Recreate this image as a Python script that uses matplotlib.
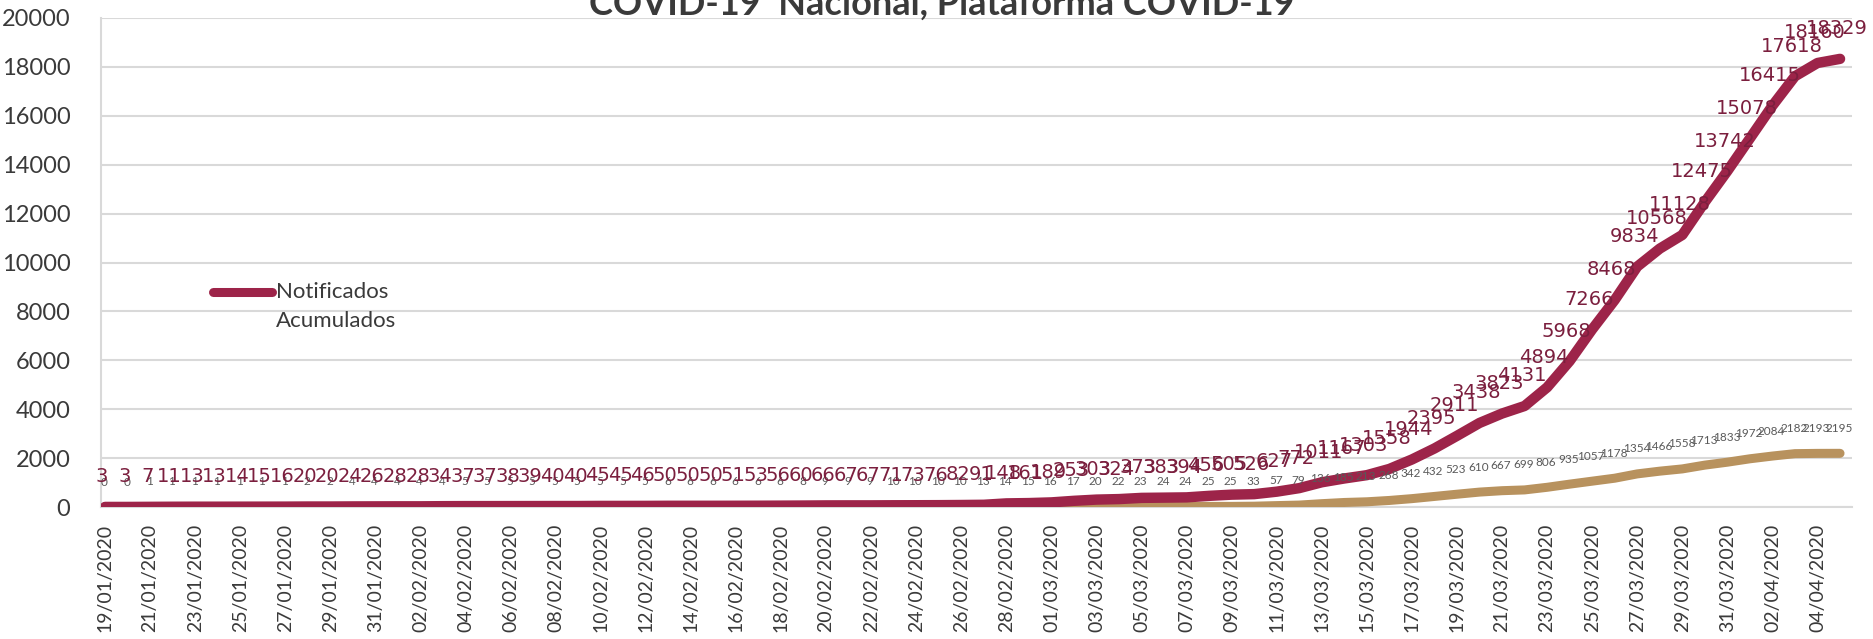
import matplotlib
matplotlib.use("Agg")
import matplotlib.pyplot as plt
import pandas as pd
from matplotlib.lines import Line2D

# ---- data ----
start_date = "2020-01-19"
n_days = 78
notificados = [3, 3, 7, 11, 13, 13, 14, 15, 16, 20, 20, 24, 26, 28, 28, 34, 37, 37, 38, 39,
               40, 40, 45, 45, 46, 50, 50, 50, 51, 53, 56, 60, 66, 67, 67, 71, 73, 76, 82, 91,
               148, 161, 189, 253, 303, 324, 373, 383, 394, 456, 505, 526, 627, 772, 1011,
               1167, 1303, 1558, 1944, 2395, 2911, 3438, 3823, 4131, 4894, 5968, 7266, 8468,
               9834, 10568, 11128, 12475, 13742, 15078, 16415, 17618, 18160, 18329]
confirmados = [0, 0, 1, 1, 1, 1, 1, 1, 1, 2, 2, 4, 4, 4, 4, 4, 5, 5, 5, 5, 5, 5, 5, 5, 5,
               6, 6, 6, 6, 6, 6, 8, 9, 9, 9, 10, 10, 10, 10, 13, 14, 15, 16, 17, 20, 22, 23,
               24, 24, 25, 25, 33, 57, 79, 136, 185, 213, 268, 342, 432, 523, 610, 667, 699,
               806, 935, 1057, 1178, 1354, 1466, 1558, 1713, 1833, 1972, 2084, 2182, 2193, 2195]
yticks = list(range(0, 20001, 2000))
title = "COVID-19  Nacional, Plataforma COVID-19"
legend_lines = ["Notificados", "Acumulados"]

dates = pd.date_range(start_date, periods=n_days)
x = list(range(n_days))
tick_pos = x[::2]
tick_labels = [d.strftime("%d/%m/%Y") for d in dates[::2]]

MAROON = "#9D2449"
GOLD = "#B8925E"
LBL_MAROON = "#7B1F3E"
LBL_GRAY = "#595959"
GRID = "#D9D9D9"
TXT = "#3A3A3A"

plt.rcParams['font.family'] = ['Lato', 'DejaVu Sans']

W, H = 1874, 639
fig = plt.figure(figsize=(W / 100, H / 100), dpi=100)
ax = fig.add_axes([101 / W, 1 - 507 / H, (1852 - 101) / W, (507 - 18) / H])

ax.plot(x, confirmados, color=GOLD, lw=6.5, solid_capstyle='round', solid_joinstyle='round', zorder=3)
ax.plot(x, notificados, color=MAROON, lw=7.5, solid_capstyle='round', solid_joinstyle='round', zorder=4)

for xi, v in zip(x, confirmados):
    ax.annotate(str(v), (xi, v), xytext=(-1, 25), textcoords='offset pixels',
                ha='center', va='center', fontsize=8.5, color=LBL_GRAY, zorder=5)
for xi, v in zip(x, notificados):
    ax.annotate(str(v), (xi, v), xytext=(-3, 30), textcoords='offset pixels',
                ha='center', va='center', fontsize=14, color=LBL_MAROON,
                family='DejaVu Sans', zorder=6)

ax.set_xlim(-0.18, 77.53)
ax.set_ylim(0, 20000)
ax.set_yticks(yticks)
ax.set_yticklabels([str(t) for t in yticks])
ax.set_xticks(tick_pos)
ax.set_xticklabels(tick_labels, rotation=90)
ax.tick_params(axis='y', length=0, pad=22, labelsize=17, labelcolor=TXT)
ax.tick_params(axis='x', length=0, pad=12, labelsize=14, labelcolor=TXT)
ax.grid(axis='y', color=GRID, lw=1.5)
ax.set_axisbelow(True)
for s in ['top', 'right']:
    ax.spines[s].set_visible(False)
ax.spines['left'].set_color(GRID)
ax.spines['left'].set_linewidth(1.5)
ax.spines['bottom'].set_color(GRID)
ax.spines['bottom'].set_linewidth(1.5)

# legend (manual)
fig.add_artist(Line2D([213 / W, 272 / W], [1 - 292 / H, 1 - 292 / H], color=MAROON, lw=6.5,
                      solid_capstyle='round', transform=fig.transFigure))
fig.text(276 / W, 1 - 292 / H, legend_lines[0], fontsize=16, color=TXT, va='center', ha='left')
fig.text(276 / W, 1 - 321 / H, legend_lines[1], fontsize=16, color=TXT, va='center', ha='left')

fig.text(942 / W, 1 - 15 / H, title, fontsize=26, fontweight='bold', color=TXT,
         ha='center', va='baseline')

fig.savefig("out.png", dpi=100)
